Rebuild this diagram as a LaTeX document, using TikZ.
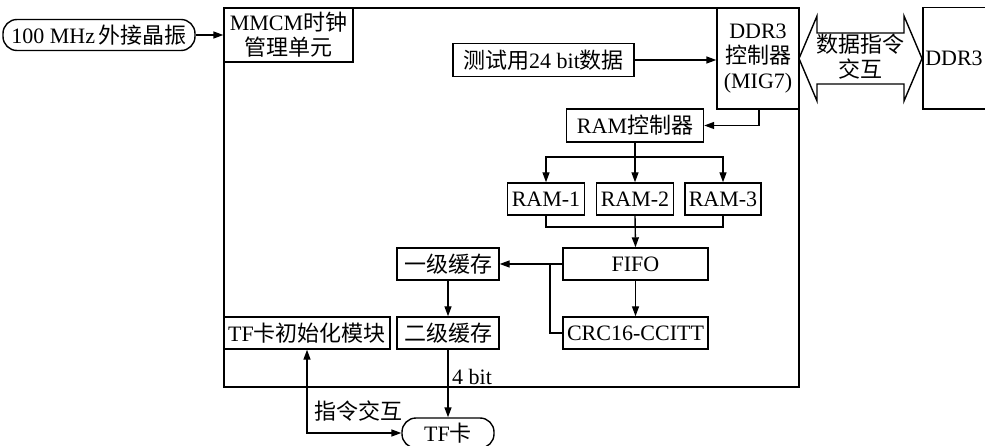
\documentclass[tikz,border=0pt]{standalone}
\usepackage{fontspec}
\setmainfont{Liberation Serif}
\newfontfamily\cjk{Noto Sans CJK SC}
\newcommand\zh[1]{{\cjk #1}}
\usetikzlibrary{arrows.meta}
\begin{document}
\begin{tikzpicture}[x=1pt,y=-1pt,
  every node/.style={font=\fontsize{22}{25}\selectfont, inner sep=0pt},
  box/.style={draw, line width=1.4pt, rectangle},
  pill/.style={draw, line width=1.4pt, rounded corners=14pt},
  wire/.style={line width=1.4pt},
  conn/.style={line width=1.4pt, -{Triangle[length=10pt,width=7pt]}},
  biconn/.style={line width=1.4pt, {Triangle[length=10pt,width=7pt]}-{Triangle[length=10pt,width=7pt]}}]
\useasboundingbox (0,0) rectangle (985,446);
% main frame
\node[box, minimum width=575pt, minimum height=379pt] (big) at (511.5,197.5) {};
% oscillator and MMCM
\node[pill, minimum width=192pt, minimum height=31pt] (osc) at (99,35) {100 MHz\,\zh{外接晶振}};
\node[box, minimum width=129pt, minimum height=54pt, align=center] (mmcm) at (288.5,35) {MMCM\zh{时钟}\\\zh{管理单元}};
\draw[conn] (osc.east) -- (mmcm.west);
% test data and DDR3 controller
\node[box, minimum width=181pt, minimum height=33pt] (test) at (543.5,60) {\zh{测试用}24 bit\zh{数据}};
\node[box, minimum width=82pt, minimum height=101pt, align=center] (ctrl) at (758,58.5) {DDR3\\\zh{控制器}\\(MIG7)};
\draw[conn] (test.east) -- (test.east -| ctrl.west);
% RAM controller
\node[box, minimum width=137pt, minimum height=33pt] (ramc) at (635,125.5) {RAM\zh{控制器}};
\draw[conn] ([xshift=1pt]ctrl.south) |- (ramc.east);
% RAMs
\node[box, minimum width=77pt, minimum height=32pt] (r1) at (546,199) {RAM-1};
\node[box, minimum width=77pt, minimum height=32pt] (r2) at (635,199) {RAM-2};
\node[box, minimum width=76pt, minimum height=32pt] (r3) at (723,199) {RAM-3};
\coordinate (bt) at (635,157);
\draw[wire] (ramc.south) -- (bt);
\draw[conn] (bt) -| (r1.north);
\draw[conn] (bt) -| (r3.north);
\draw[conn] (bt) -- (r2.north);
\coordinate (bb) at (635,227);
\draw[wire] (r1.south) |- (bb) -| (r3.south);
% FIFO, caches, CRC
\node[box, minimum width=145pt, minimum height=32pt] (fifo) at (635.5,264) {FIFO};
\draw[conn] (r2.south) -- (fifo.north);
\node[box, minimum width=102pt, minimum height=32pt] (l1) at (448,264) {\zh{一级缓存}};
\draw[conn] (fifo.west) -- (l1.east);
\node[box, minimum width=145pt, minimum height=32pt] (crc) at (635.5,333) {CRC16-CCITT};
\coordinate (fb) at (550,264);
\draw[wire] (fb) |- (crc.west);
\draw[conn] (fifo.south) -- (crc.north);
\node[box, minimum width=102pt, minimum height=32pt] (l2) at (448,333) {\zh{二级缓存}};
\draw[conn] (l1.south) -- (l2.north);
\node[box, minimum width=166pt, minimum height=32pt] (tfinit) at (307,333) {TF\zh{卡初始化模块}};
% TF card
\node[pill, minimum width=92pt, minimum height=30pt] (tf) at (448,433) {TF\zh{卡}};
\draw[conn] (l2.south) -- (tf.north);
\node[anchor=west] (fourbit) at (452,377) {4 bit};
\draw[biconn] (tfinit.south) |- (tf.west);
\node (cmdlbl) at (358,411) {\zh{指令交互}};
% double arrow
\draw[line width=1.4pt] (799,58.5) -- (817,16) -- (817,33) -- (904,33) -- (904,16) -- (922,58.5)
  -- (904,101) -- (904,84) -- (817,84) -- (817,101) -- cycle;
\node[align=center] (dlbl) at (860,57) {\zh{数据指令}\\\zh{交互}};
% DDR3 memory
\node[minimum width=62pt, minimum height=101pt] (ddr) at (954,58.5) {DDR3};
\draw[wire] ([xshift=5pt]ddr.north east) -- (ddr.north west) -- (ddr.south west) -- ([xshift=5pt]ddr.south east);
\end{tikzpicture}
\end{document}
